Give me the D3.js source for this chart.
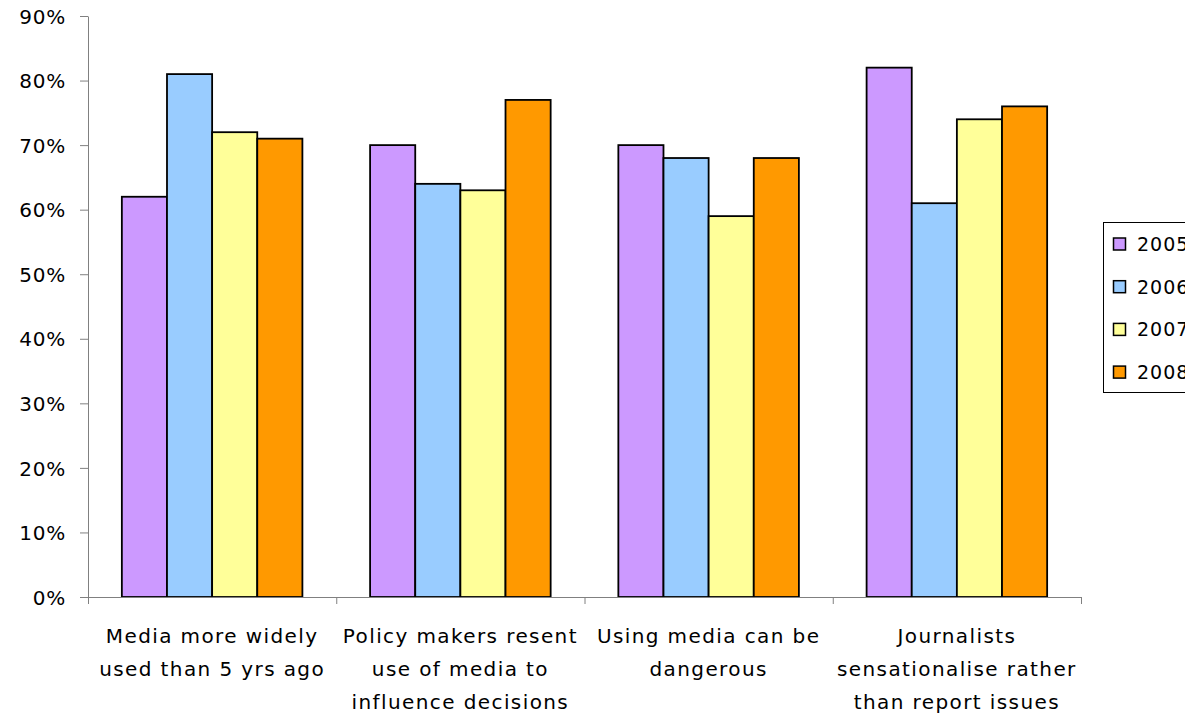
<!DOCTYPE html>
<html><head><meta charset="utf-8">
<script src="https://cdn.jsdelivr.net/npm/d3@7"></script>
<style>
html,body{margin:0;padding:0;background:#fff;}
text{font-family:"DejaVu Sans",Verdana,sans-serif;fill:#000;}
</style></head>
<body><svg id="c" width="1185" height="717"></svg>
<script>
const categories = [
  ["Media more widely", "used than 5 yrs ago"],
  ["Policy makers resent", "use of media to", "influence decisions"],
  ["Using media can be", "dangerous"],
  ["Journalists", "sensationalise rather", "than report issues"]
];
const seriesNames = ["2005", "2006", "2007", "2008"];
const s2005 = [62, 70, 70, 82];
const s2006 = [81, 64, 68, 61];
const s2007 = [72, 63, 59, 74];
const s2008 = [71, 77, 68, 76];
const yTicks = [0, 10, 20, 30, 40, 50, 60, 70, 80, 90];
const colors = ["#cc99ff", "#99ccff", "#ffff99", "#ff9900"];

const series = [s2005, s2006, s2007, s2008];
const svg = d3.select("#c");
const L = 88, R = 1081, T = 16, B = 597;
const x = d3.scaleBand().domain(d3.range(categories.length)).range([L, R]).paddingInner(0).paddingOuter(0);
const inner = d3.scaleBand().domain(seriesNames).range([0, x.bandwidth()]).paddingOuter(0.75).paddingInner(0);
const y = d3.scaleLinear().domain([0, 90]).range([B, T]);

// bars
categories.forEach((c, i) => {
  const g = svg.append("g").attr("transform", `translate(${x(i)},0)`);
  seriesNames.forEach((s, j) => {
    const v = series[j][i];
    g.append("rect")
      .attr("x", inner(s)).attr("y", y(v))
      .attr("width", inner.bandwidth()).attr("height", y(0) - y(v))
      .attr("fill", colors[j]).attr("stroke", "#000").attr("stroke-width", 1.8);
  });
});

// y axis
const ya = svg.append("g").attr("transform", `translate(${L},0)`)
  .call(d3.axisLeft(y).tickValues(yTicks).tickFormat(d => d + "%").tickSize(8).tickSizeOuter(0));
ya.select(".domain").attr("stroke", "#808080");
ya.selectAll(".tick line").attr("stroke", "#808080");
ya.selectAll(".tick text").attr("font-size", 20).attr("font-family", "DejaVu Sans")
  .attr("letter-spacing", 0.8).attr("x", -22).attr("dy", "0.36em").attr("fill", "#000");

// x axis
const xa = svg.append("g").attr("transform", `translate(0,${B})`)
  .call(d3.axisBottom(d3.scaleLinear().domain([0, categories.length]).range([L, R]))
    .tickValues(d3.range(categories.length + 1)).tickFormat("").tickSize(7).tickSizeOuter(0));
xa.select(".domain").attr("stroke", "#808080");
xa.selectAll(".tick line").attr("stroke", "#808080");

// category labels
categories.forEach((lines, i) => {
  const t = svg.append("text").attr("text-anchor", "middle")
    .attr("font-family", "DejaVu Sans Condensed")
    .attr("font-size", 20).attr("letter-spacing", 1.4);
  lines.forEach((ln, k) => {
    t.append("tspan").attr("x", x(i) + x.bandwidth() / 2).attr("y", 643 + k * 33).text(ln);
  });
});

// legend
const lg = svg.append("g");
lg.append("rect").attr("x", 1103.5).attr("y", 222.5).attr("width", 120).attr("height", 170)
  .attr("fill", "#fff").attr("stroke", "#000").attr("stroke-width", 1);
seriesNames.forEach((s, j) => {
  const cy = 244 + j * 42.7;
  lg.append("rect").attr("x", 1113.5).attr("y", cy - 6).attr("width", 12).attr("height", 12)
    .attr("fill", colors[j]).attr("stroke", "#000").attr("stroke-width", 1.5);
  lg.append("text").attr("x", 1137).attr("y", cy + 7).attr("font-size", 19).attr("letter-spacing", 1).text(s);
});
</script></body></html>
